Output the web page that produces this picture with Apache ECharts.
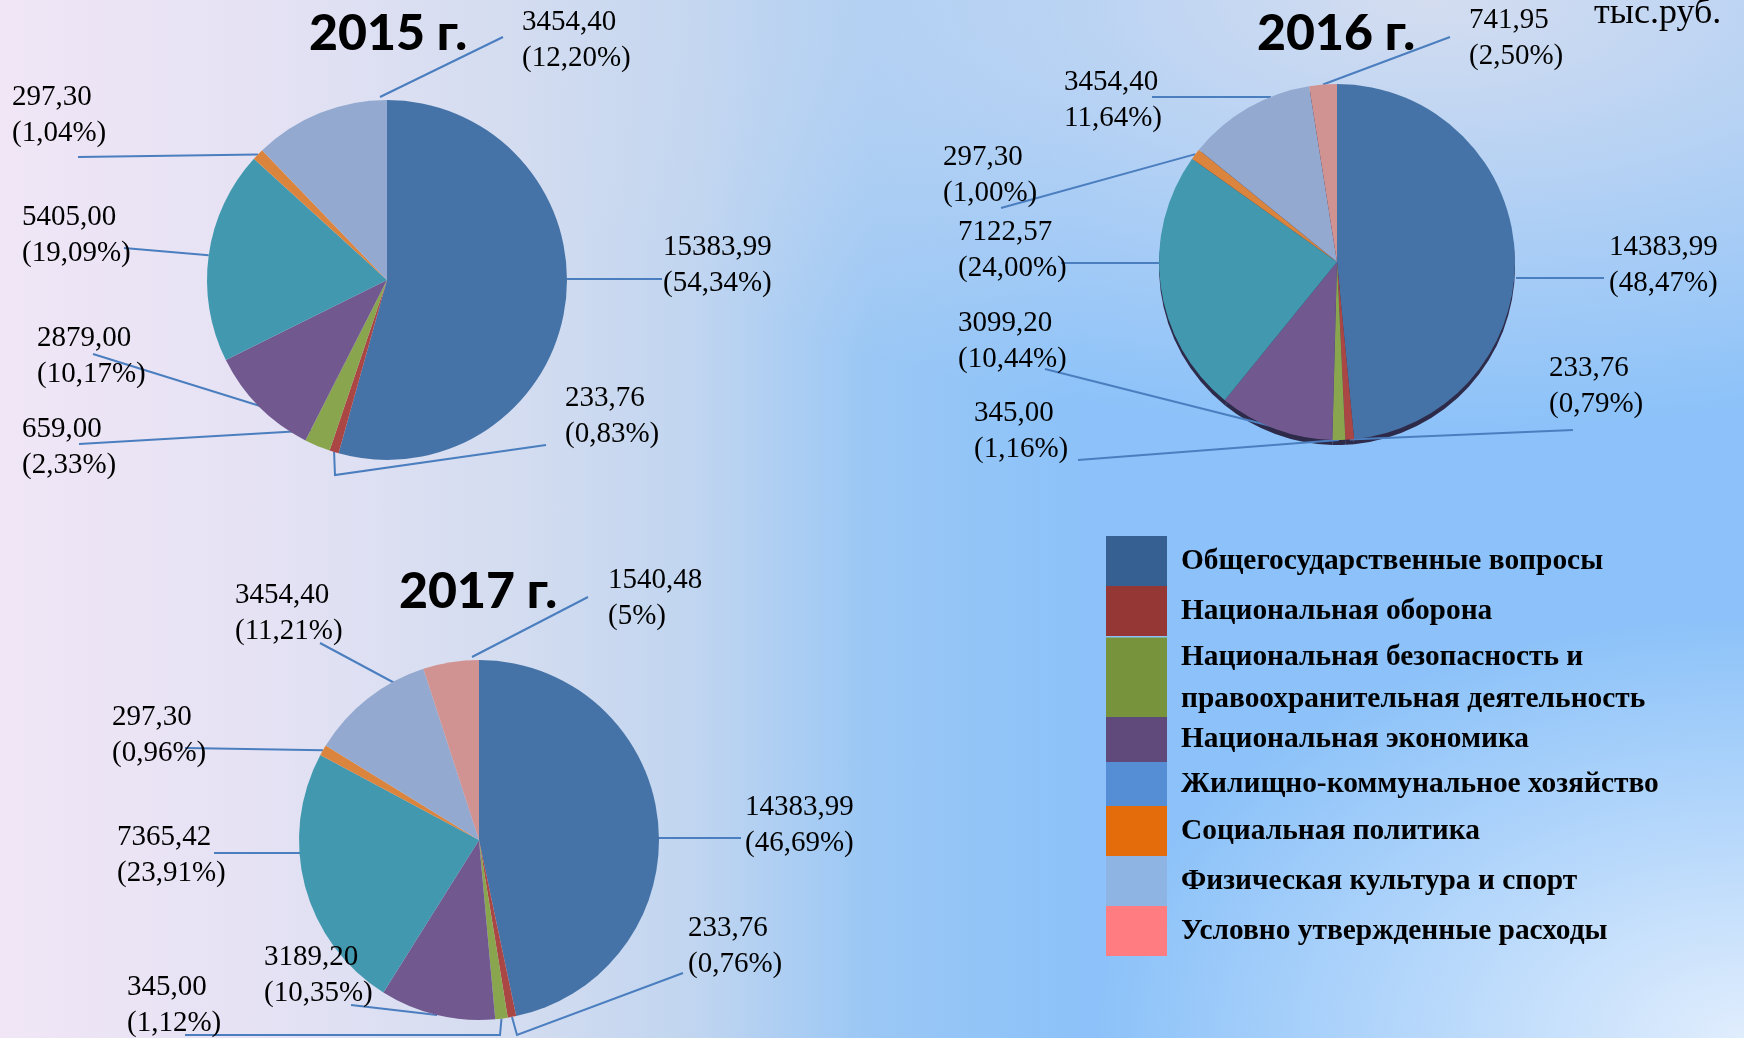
<!DOCTYPE html>
<html>
<head>
<meta charset="utf-8">
<script src="https://cdn.jsdelivr.net/npm/echarts@6/dist/echarts.min.js"></script>
<style>
  html, body { margin: 0; padding: 0; }
  body {
    width: 1744px; height: 1038px; overflow: hidden;
    background:
      radial-gradient(ellipse 650px 420px at 100% 100%, rgba(224,237,253,1) 0%, rgba(224,237,253,0) 100%),
      radial-gradient(ellipse 1000px 430px at 82% 0%, rgba(212,221,240,1) 0%, rgba(212,221,240,0) 100%),
      linear-gradient(to right, #F0E6F6 0%, #E5E2F4 15%, #D3DCF0 30%, #C0D5F0 40%, #9AC7F5 50%, #8CC2F9 62%, #8CC2F9 100%);
  }
  #main { width: 1744px; height: 1038px; }
</style>
</head>
<body>
<div id="main"></div>
<script>
// categories (same order in every year)
const categories = [
  'Общегосударственные вопросы',
  'Национальная оборона',
  'Национальная безопасность и правоохранительная деятельность',
  'Национальная экономика',
  'Жилищно-коммунальное хозяйство',
  'Социальная политика',
  'Физическая культура и спорт',
  'Условно утвержденные расходы'
]
const years = ['2015 г.', '2016 г.', '2017 г.']
const unitLabel = 'тыс.руб.'

// values, тыс.руб.
const values2015 = [15383.99, 233.76, 659.00, 2879.00, 5405.00, 297.30, 3454.40]
const values2016 = [14383.99, 233.76, 345.00, 3099.20, 7122.57, 297.30, 3454.40, 741.95]
const values2017 = [14383.99, 233.76, 345.00, 3189.20, 7365.42, 297.30, 3454.40, 1540.48]

// percent captions as printed on the slide
const pct2015 = ['(54,34%)', '(0,83%)', '(2,33%)', '(10,17%)', '(19,09%)', '(1,04%)', '(12,20%)']
const pct2016 = ['(48,47%)', '(0,79%)', '(1,16%)', '(10,44%)', '(24,00%)', '(1,00%)', '11,64%)', '(2,50%)']
const pct2017 = ['(46,69%)', '(0,76%)', '(1,12%)', '(10,35%)', '(23,91%)', '(0,96%)', '(11,21%)', '(5%)']

const sliceColors = ['#4673A7', '#AA4643', '#89A54E', '#71588F', '#4198AF', '#DB843D', '#93A9CF', '#D19392']
const legendColors = ['#376092', '#953735', '#77933C', '#604A7B', '#558ED5', '#E46C0A', '#8EB4E3', '#FF7C80']

// label placement (top-left of text), leader line points after the anchor,
// and where the slide moved a leader anchor away from the slice middle
const labPos2015 = [[663, 229], [565, 380], [22, 411], [37, 320], [22, 199], [12, 79], [522, 4]]
const linePts2015 = [[[662, 279]], [[335, 475], [546, 445]], [[79, 444]], [[93, 354]], [[124, 248]], [[78, 157]], [[503, 37]]]
const anchor2015 = [[567, 279], null, [319, 430], [289, 415], null, null, [380, 97]]
const labPos2016 = [[1609, 229], [1549, 350], [974, 395], [958, 305], [958, 214], [943, 139], [1064, 64], [1469, 2]]
const linePts2016 = [[[1604, 278]], [[1573, 430]], [[1078, 460]], [[1045, 369]], [[1061, 263]], [[1001, 208]], [[1152, 97]], [[1450, 37]]]
const anchor2016 = [[1516, 278], null, null, [1287, 430], [1165, 263], null, [1271, 97], null]
const labPos2017 = [[745, 789], [688, 910], [127, 969], [264, 939], [117, 819], [112, 699], [235, 577], [608, 562]]
const linePts2017 = [[[741, 838]], [[517, 1035], [683, 973]], [[500, 1035], [185, 1035]], [[351, 1005]], [[214, 853]], [[185, 748]], [[320, 643]], [[588, 597]]]
const anchor2017 = [[658, 838], null, null, null, [301, 853], null, [402, 687], [472, 657]]

const legendTops = [536, 586, 636, 717, 762, 806, 856, 906]
const legendHeights = [50, 50, 81, 45, 44, 50, 50, 50]

const fmt = v => v.toFixed(2).replace('.', ',')

function toData (values) {
  return values.map((v, i) => ({ value: v, name: categories[i], itemStyle: { color: sliceColors[i] } }))
}

function makeLayout (labPos, linePts, anchors) {
  return function (params) {
    const i = params.dataIndex
    let start = anchors[i]
    if (!start) start = params.labelLinePoints ? params.labelLinePoints[0] : linePts[i][0]
    return {
      x: labPos[i][0],
      y: labPos[i][1],
      align: 'left',
      verticalAlign: 'top',
      labelLinePoints: [start].concat(linePts[i])
    }
  }
}

function pieSeries (name, values, pct, center, radius, labPos, linePts, anchors) {
  return {
    type: 'pie',
    name: name,
    center: center,
    radius: radius,
    startAngle: 90,
    clockwise: true,
    avoidLabelOverlap: false,
    data: toData(values),
    itemStyle: { borderWidth: 0 },
    label: {
      show: true,
      position: 'outside',
      formatter: p => fmt(values[p.dataIndex]) + '\n' + pct[p.dataIndex],
      fontFamily: 'Liberation Serif',
      fontSize: 29,
      lineHeight: 36,
      color: '#000'
    },
    labelLine: { show: true, lineStyle: { color: '#4A7EBF', width: 2 } },
    labelLayout: makeLayout(labPos, linePts, anchors),
    z: 2
  }
}

const chart = echarts.init(document.getElementById('main'))

const titleFont = '900 50px Lato'

chart.setOption({
  backgroundColor: 'transparent',
  animation: false,
  graphic: [
    { type: 'text', x: 388, y: 34, style: { text: years[0], align: 'center', verticalAlign: 'middle', font: titleFont, fill: '#000' } },
    { type: 'text', x: 1336, y: 34, style: { text: years[1], align: 'center', verticalAlign: 'middle', font: titleFont, fill: '#000' } },
    { type: 'text', x: 478, y: 592, style: { text: years[2], align: 'center', verticalAlign: 'middle', font: titleFont, fill: '#000' } },
    { type: 'text', x: 1594, y: -4, style: { text: unitLabel, align: 'left', verticalAlign: 'top', font: '36px "Liberation Serif"', fill: '#000' } }
  ],
  legend: categories.map((name, i) => ({
    orient: 'vertical',
    left: 1106,
    top: legendTops[i],
    padding: 0,
    itemGap: 0,
    itemWidth: 61,
    itemHeight: legendHeights[i],
    icon: 'rect',
    selectedMode: false,
    data: [{ name: name, itemStyle: { color: legendColors[i], borderWidth: 0 } }],
    formatter: n => i === 2 ? 'Национальная безопасность и\nправоохранительная деятельность' : n,
    textStyle: {
      fontFamily: 'Liberation Serif',
      fontWeight: 'bold',
      fontSize: 29.4,
      lineHeight: 42,
      color: '#000',
      padding: [0, 0, 0, 9]
    }
  })),
  series: [
    // dark rim under the 2016 pie (3-D edge)
    {
      type: 'pie',
      name: 'rim',
      silent: true,
      center: [1337, 267],
      radius: 178,
      startAngle: 90,
      data: values2016.map((v, i) => ({ value: v, name: categories[i] })),
      itemStyle: { color: '#2E2A4A', borderWidth: 0 },
      label: { show: false },
      labelLine: { show: false },
      z: 1
    },
    pieSeries('2015', values2015, pct2015, [387, 280], 180, labPos2015, linePts2015, anchor2015),
    pieSeries('2016', values2016, pct2016, [1337, 262], 178, labPos2016, linePts2016, anchor2016),
    pieSeries('2017', values2017, pct2017, [479, 840], 180, labPos2017, linePts2017, anchor2017)
  ]
})
</script>
</body>
</html>
